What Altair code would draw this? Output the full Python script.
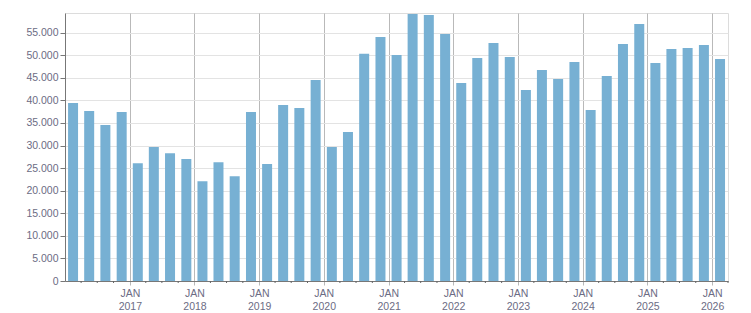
import altair as alt
import pandas as pd

# Quarterly data, 2016 Q1 .. 2026 Q1
years = [2016]*4 + [2017]*4 + [2018]*4 + [2019]*4 + [2020]*4 + [2021]*4 + \
        [2022]*4 + [2023]*4 + [2024]*4 + [2025]*4 + [2026]
quarters = [1, 2, 3, 4]*10 + [1]
values = [
    39400, 37650, 34550, 37400,
    26100, 29650, 28300, 27000,
    22100, 26300, 23200, 37400,
    25900, 38950, 38300, 44500,
    29650, 33000, 50300, 54050,
    50050, 59150, 58900, 54700,
    43850, 49400, 52700, 49600,
    42300, 46750, 44750, 48500,
    37850, 45400, 52500, 56900,
    48300, 51400, 51600, 52250,
    49150,
]
jan_years = list(range(2017, 2027))

starts = pd.to_datetime([f"{y}-{3*(q-1)+1:02d}-01" for y, q in zip(years, quarters)])
ends = starts + pd.DateOffset(months=3)
mids = starts + (ends - starts) / 2
df = pd.DataFrame({
    "date": [d.strftime("%Y-%m-%dT%H:%M:%SZ") for d in mids],
    "value": values,
})

minor = pd.DataFrame({
    "t": [d.strftime("%Y-%m-%dT00:00:00Z") for d in list(starts[1:]) + [ends[-1]] if d.month != 1]
})

W, H = 663, 268
x_scale = alt.Scale(
    type="utc", nice=False, padding=0,
    domain=["2016-01-01T00:00:00Z", "2026-04-01T00:00:00Z"],
)
label_color = "#6c6c84"
font = "Liberation Sans"

x_axis = alt.Axis(
    values=[alt.DateTime(year=y, month=1, date=1, utc=True) for y in jan_years],
    labelExpr="['JAN', utcFormat(datum.value, '%Y')]",
    grid=True, gridColor="#b9b9b9", gridWidth=1,
    tickSize=4, tickColor="#b9b9b9",
    domainColor="#777777",
    labelColor=label_color, labelFont=font, labelFontSize=10.5,
    labelLineHeight=13, labelPadding=3, labelAlign="center",
    labelBaseline="top", labelFlush=False, labelOverlap=False,
)

bars = alt.Chart(df).mark_bar(width=10, color="#77b0d3").encode(
    x=alt.X("date:T", scale=x_scale, title=None, axis=x_axis),
    y=alt.Y("value:Q", title=None,
            scale=alt.Scale(domain=[0, 59350], nice=False),
            axis=alt.Axis(
                values=list(range(0, 60000, 5000)),
                labelExpr="replace(format(datum.value, ','), ',', '.')",
                grid=True, gridColor="#e3e3e3",
                tickSize=5, tickColor="#777777", domainColor="#777777",
                labelColor=label_color, labelFont=font, labelFontSize=10.5,
                labelPadding=2,
            )),
)

ticks = alt.Chart(minor).mark_rule(color="#666666").encode(
    x=alt.X("t:T", scale=x_scale, title=None, axis=x_axis),
    y=alt.value(H),
    y2=alt.value(H + 2),
)

chart = alt.layer(bars, ticks).properties(
    width=W, height=H,
    autosize="none",
    padding={"left": 65, "top": 13, "right": 23, "bottom": 32},
).configure_view(stroke="#dcdcdc")

chart.save("out.html", embed_options={"renderer": "svg", "actions": False})
